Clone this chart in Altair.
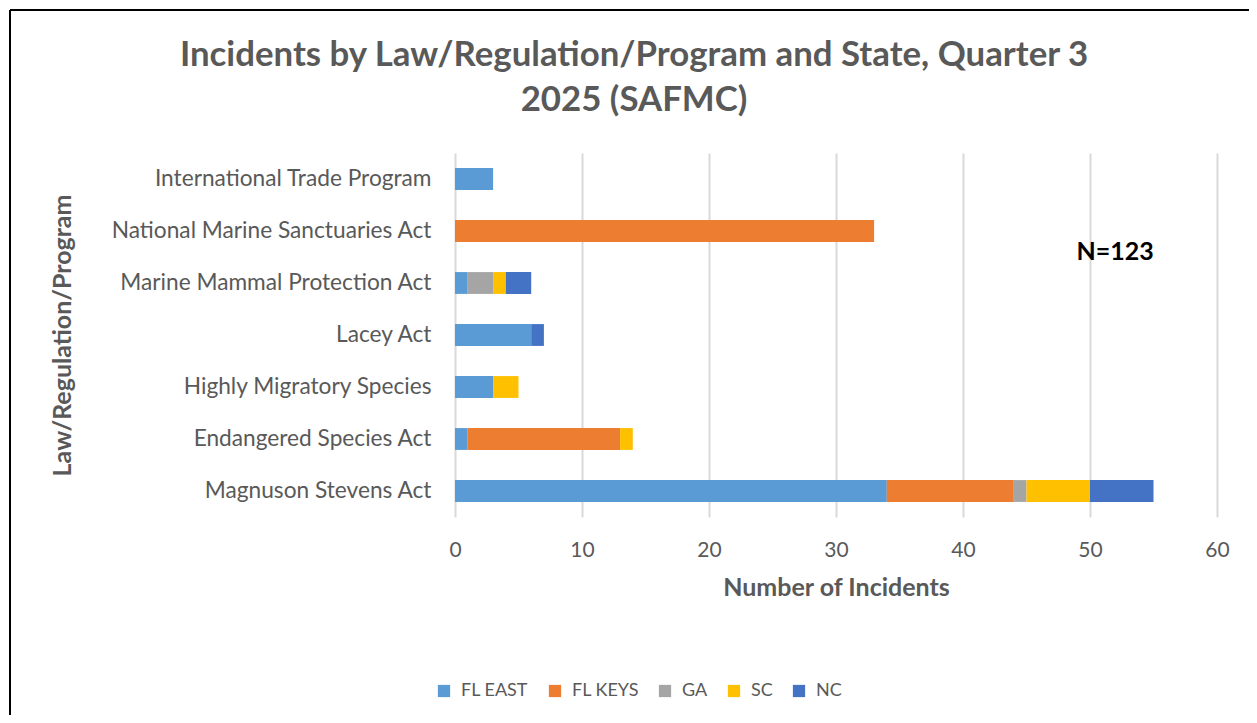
import altair as alt
import pandas as pd

categories = [
    "International Trade Program",
    "National Marine Sanctuaries Act",
    "Marine Mammal Protection Act",
    "Lacey Act",
    "Highly Migratory Species",
    "Endangered Species Act",
    "Magnuson Stevens Act",
]
states = ["FL EAST", "FL KEYS", "GA", "SC", "NC"]
colors = ["#5B9BD5", "#ED7D31", "#A5A5A5", "#FFC000", "#4472C4"]

fl_east = [3, 0, 1, 6, 3, 1, 34]
fl_keys = [0, 33, 0, 0, 0, 12, 10]
ga = [0, 0, 2, 0, 0, 0, 1]
sc = [0, 0, 1, 0, 2, 1, 5]
nc = [0, 0, 2, 1, 0, 0, 5]

title_lines = ["Incidents by Law/Regulation/Program and State, Quarter 3", "2025 (SAFMC)"]

series = [fl_east, fl_keys, ga, sc, nc]
rows = []
for si, (st, vals) in enumerate(zip(states, series)):
    for c, v in zip(categories, vals):
        rows.append({"Law": c, "State": st, "Incidents": v, "ord": si})
df = pd.DataFrame(rows)

FONT = "Lato"
GRAY = "#595959"

# plot origin in page px: (455, 153); plot size 762 x 364
bars = alt.Chart(df).mark_bar(strokeWidth=0).encode(
    y=alt.Y("Law:N", sort=categories,
            scale=alt.Scale(paddingInner=0.58, paddingOuter=0.29),
            axis=alt.Axis(title="Law/Regulation/Program", ticks=False, domain=False,
                          labelPadding=24, labelFontSize=22.7, labelColor=GRAY, labelFont=FONT,
                          titleFont=FONT, titleFontSize=25, titleColor=GRAY, titleFontWeight="bold",
                          titleX=-393, titleY=182, titleAngle=-90, titleAlign="center",
                          titleBaseline="middle", labelLimit=400)),
    x=alt.X("Incidents:Q", stack="zero",
            scale=alt.Scale(domain=[0, 60], nice=False),
            axis=alt.Axis(values=[0, 10, 20, 30, 40, 50, 60], title="Number of Incidents",
                          ticks=False, domain=False, grid=True, gridColor="#D9D9D9", gridWidth=2,
                          labelFlush=False,
                          labelPadding=22, labelFontSize=21, labelColor=GRAY, labelFont=FONT,
                          titleFont=FONT, titleFontSize=25, titleColor=GRAY, titleFontWeight="bold",
                          titleX=381, titleY=70, titleAlign="center", titleBaseline="middle")),
    color=alt.Color("State:N", sort=states,
                    scale=alt.Scale(domain=states, range=colors),
                    legend=alt.Legend(title=None, orient="none", direction="horizontal",
                                      legendX=-20, legendY=529, columns=5,
                                      symbolType="square", symbolSize=150, symbolStrokeWidth=0,
                                      labelFont=FONT, labelFontSize=18, labelColor=GRAY,
                                      labelOffset=8, columnPadding=17)),
    order=alt.Order("ord:Q"),
)

ntext = alt.Chart(pd.DataFrame({"t": [ "N=123"]})).mark_text(
    font=FONT, fontSize=25, fontWeight="bold", color="black", align="center", baseline="middle"
).encode(text="t:N", x=alt.value(660), y=alt.value(99))

title1 = alt.Chart(pd.DataFrame({"t": [title_lines[0]]})).mark_text(
    font=FONT, fontSize=34.8, fontWeight="bold", color=GRAY, align="center", baseline="middle"
).encode(text="t:N", x=alt.value(179), y=alt.value(-97))
title2 = alt.Chart(pd.DataFrame({"t": [title_lines[1]]})).mark_text(
    font=FONT, fontSize=34.8, fontWeight="bold", color=GRAY, align="center", baseline="middle"
).encode(text="t:N", x=alt.value(179), y=alt.value(-52))

frame_top = alt.Chart(pd.DataFrame({"a": [0]})).mark_rule(color="black", strokeWidth=2).encode(
    x=alt.value(-445), x2=alt.value(810), y=alt.value(-143))
frame_left = alt.Chart(pd.DataFrame({"a": [0]})).mark_rule(color="black", strokeWidth=2).encode(
    x=alt.value(-445), y=alt.value(-143), y2=alt.value(580))

chart = alt.layer(frame_top, frame_left, bars, ntext, title1, title2).properties(
    width=762, height=364,
    background="white",
    autosize=alt.AutoSizeParams(type="none"),
    padding={"left": 447, "top": 145, "right": 32, "bottom": 198},
).configure_view(stroke=None)

chart.save("out.html", embed_options={"renderer": "svg", "actions": False})
